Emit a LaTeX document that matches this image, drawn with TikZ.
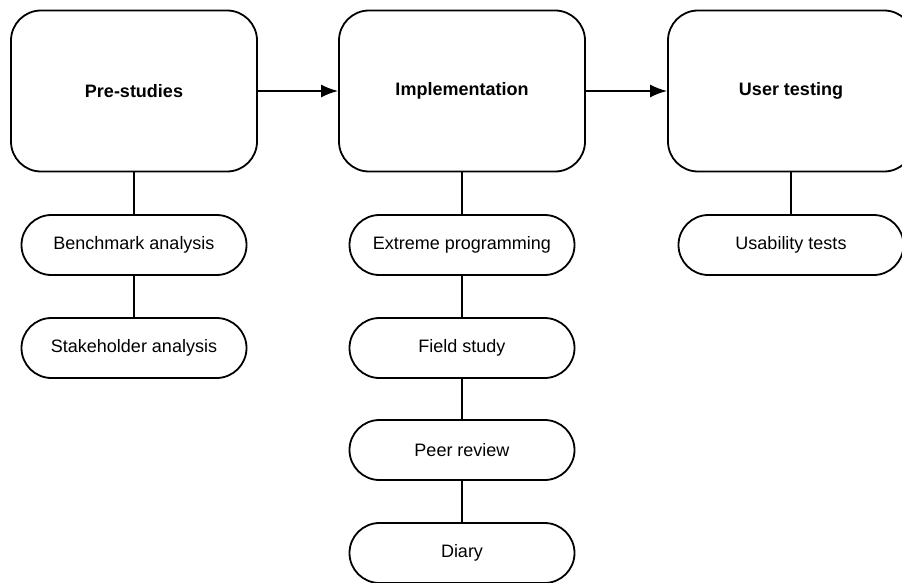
\documentclass[tikz,border=0pt]{standalone}
\usepackage{fontspec}
\setmainfont{Liberation Sans}
\usetikzlibrary{arrows.meta}

\tikzset{
	phase/.style={draw=black,line width=1.8pt,rounded corners=30pt,minimum width=246pt,minimum height=161pt,font=\fontsize{18}{22}\selectfont\bfseries},
	method/.style={draw=black,line width=1.8pt,rounded corners=30pt,minimum width=225pt,minimum height=60pt,font=\fontsize{18}{22}\selectfont},
	link/.style={black,line width=1.8pt},
}

\begin{document}
\begin{tikzpicture}[>={Latex[length=17pt,width=13pt]},x=1pt,y=-1pt]
	\useasboundingbox (0,0) rectangle (902,583);
	% phases
	\node[phase] (pre) at (134,91) {Pre-studies};
	\node[phase] (impl) at (462,91) {Implementation};
	\node[phase] (user) at (791,91) {User testing};
	% methods
	\node[method] (bench) at (134,245) {Benchmark analysis};
	\node[method] (stake) at (134,348) {Stakeholder analysis};
	\node[method] (xp) at (462,245) {Extreme programming};
	\node[method] (field) at (462,348) {Field study};
	\node[method] (peer) at (462,450) {Peer review};
	\node[method] (diary) at (462,553) {Diary};
	\node[method] (usab) at (791,245) {Usability tests};
	%
	\draw[link,->] (pre) -- (impl);
	\draw[link,->] (impl) -- (user);
	\draw[link] (pre) -- (bench);
	\draw[link] (bench) -- (stake);
	\draw[link] (impl) -- (xp);
	\draw[link] (xp) -- (field);
	\draw[link] (field) -- (peer);
	\draw[link] (peer) -- (diary);
	\draw[link] (user) -- (usab);
\end{tikzpicture}
\end{document}
